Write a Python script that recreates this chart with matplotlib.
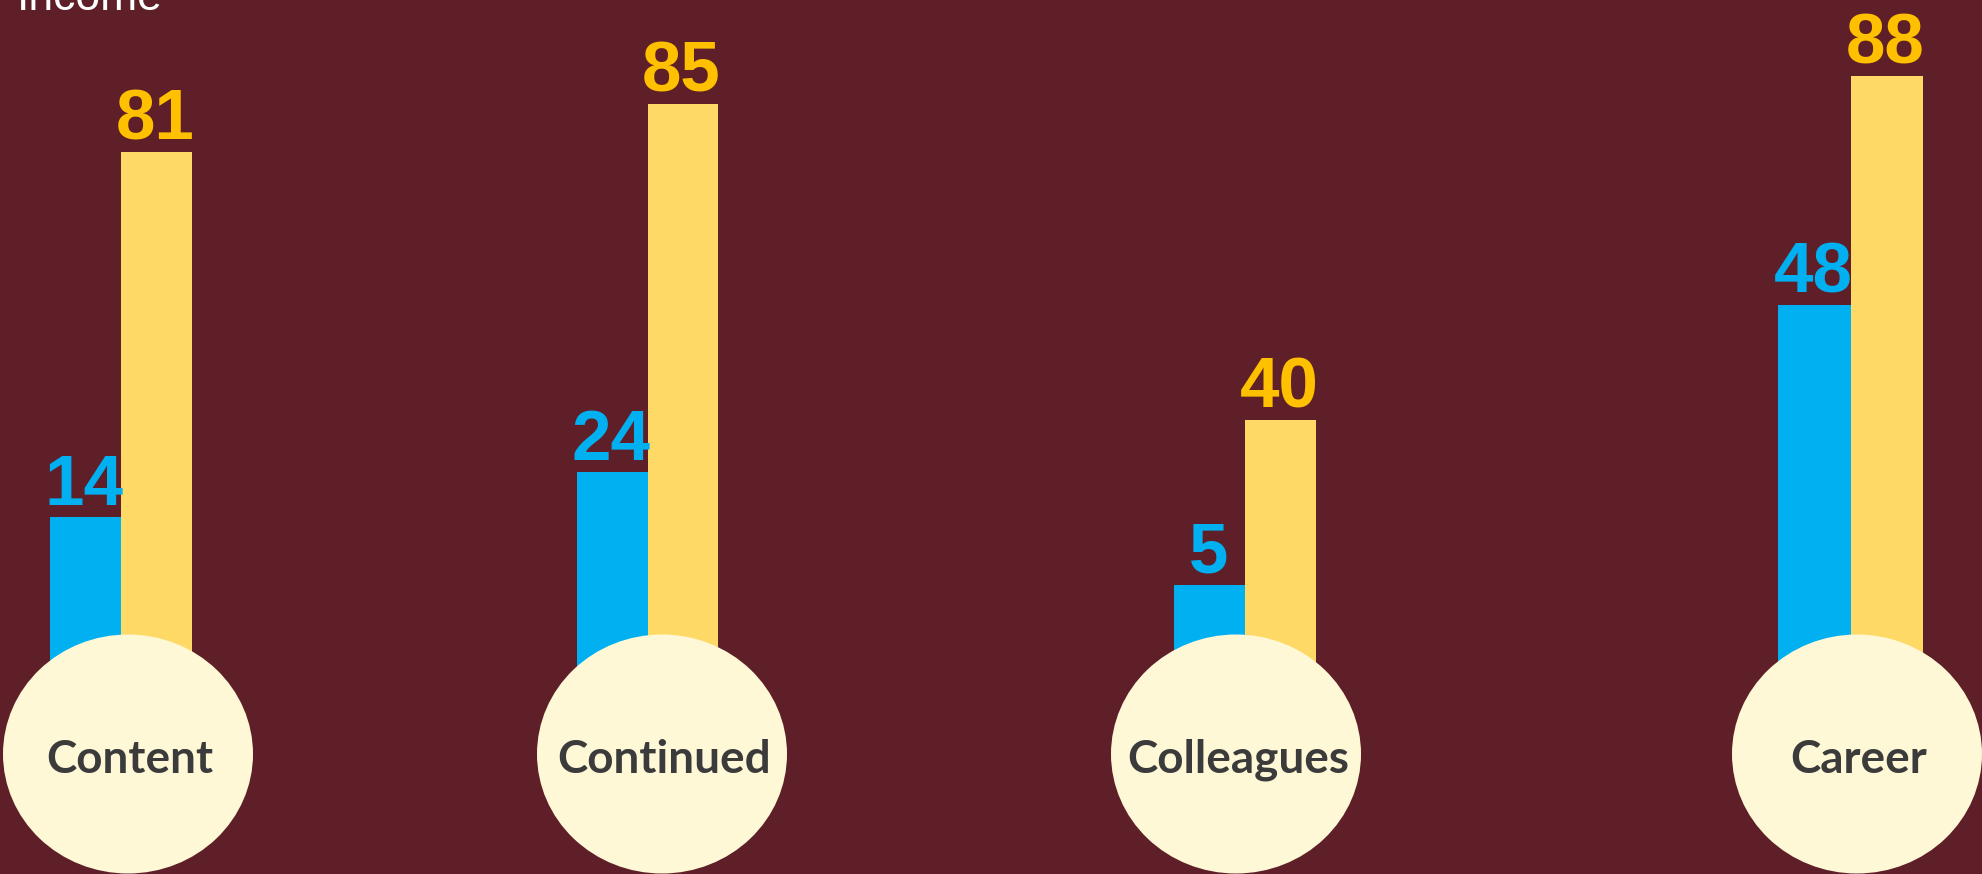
import matplotlib
matplotlib.use("Agg")
import matplotlib.pyplot as plt
from matplotlib.patches import Ellipse

# data
categories = ["Content", "Continued", "Colleagues", "Career"]
low_income = [14, 24, 5, 48]
high_income = [81, 85, 40, 88]
legend_text = "Income"

# colours
BG = "#5E1F28"
BLUE = "#00B0F0"
YELLOW_BAR = "#FFD966"
YELLOW_TXT = "#FFC000"
CREAM = "#FFF8D6"
DARK = "#3B3B3B"

W, H = 1982, 874

# layout (pixels) - every group is drawn on its own little axes
GROUP_LEFT = [50, 577, 1174, 1778]
GROUP_RIGHT = [192, 718, 1316, 1923]
GROUP_YLIM = [(-51.5, 108.9), (-42.6, 102.2), (-56.3, 129.1), (-51.4, 101.3)]
BAR_FOOT = 720  # bars stop here, hidden behind the circles
CIRCLE_X = [128, 662, 1236, 1857]
CIRCLE_Y = 754
CIRCLE_W, CIRCLE_H = 250, 239

fig = plt.figure(figsize=(W / 100, H / 100), dpi=100)
fig.patch.set_facecolor(BG)

for i, cat in enumerate(categories):
    x0 = GROUP_LEFT[i] / W
    x1 = GROUP_RIGHT[i] / W
    ax = fig.add_axes([x0, 0, x1 - x0, 1])
    ax.set_facecolor("none")
    lo, hi = GROUP_YLIM[i]
    ax.set_xlim(-0.5, 1.5)
    ax.set_ylim(lo, hi)
    ax.axis("off")

    foot = lo + (H - BAR_FOOT) / H * (hi - lo)
    vals = [low_income[i], high_income[i]]
    ax.bar([0, 1], [v - foot for v in vals], bottom=foot, width=1.0,
           color=[BLUE, YELLOW_BAR], linewidth=0)

    for xpos, v, col in zip([0, 1], vals, [BLUE, YELLOW_TXT]):
        ax.annotate(str(v), (xpos, v), xytext=(-1, 9), textcoords="offset points",
                    ha="center", va="baseline", color=col, fontsize=51,
                    fontweight="bold", family="Liberation Sans")

# overlay for the circles and the text
top = fig.add_axes([0, 0, 1, 1])
top.set_facecolor("none")
top.set_xlim(0, W)
top.set_ylim(H, 0)
top.axis("off")

for i, cat in enumerate(categories):
    top.add_patch(Ellipse((CIRCLE_X[i], CIRCLE_Y), CIRCLE_W, CIRCLE_H,
                          facecolor=CREAM, edgecolor="none"))
    top.text(CIRCLE_X[i] + 2, CIRCLE_Y + 6, cat, ha="center", va="center",
             color=DARK, fontsize=33, fontweight="bold", family="Lato")

top.text(17, 10, legend_text, ha="left", va="baseline", color="white",
         fontsize=32, family="Liberation Sans")

fig.savefig("out.png", dpi=100, facecolor=BG)
